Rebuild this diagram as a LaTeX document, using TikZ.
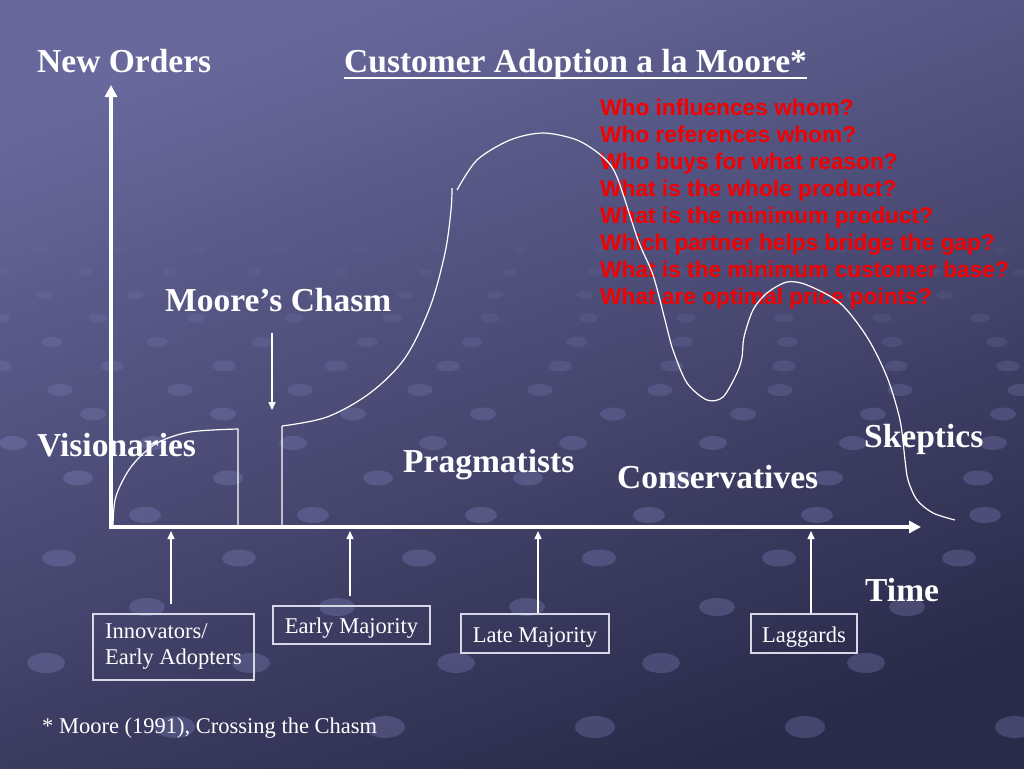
\documentclass[tikz,border=0pt]{standalone}
\usepackage{fontspec}
\setmainfont{Liberation Serif}
\newfontfamily\redsans{Liberation Sans}
\usetikzlibrary{arrows.meta}
\definecolor{bgtop}{RGB}{104,104,156}
\definecolor{bgbot}{RGB}{42,42,74}
\definecolor{boxline}{RGB}{215,215,232}
\definecolor{qred}{RGB}{245,0,0}
\definecolor{dotc}{RGB}{150,150,215}
\begin{document}
\begin{tikzpicture}[x=1pt,y=-1pt,
  heading/.style={text=white, font=\fontsize{33.5}{40}\selectfont\bfseries, inner sep=0pt, anchor=base west},
  plain/.style={text=white, font=\fontsize{22.5}{26}\selectfont, inner sep=0pt, anchor=base west},
  qs/.style={text=qred, font=\redsans\bfseries\fontsize{22.7}{27}\selectfont, inner sep=0pt, anchor=base west},
  box/.style={draw=boxline, line width=1.2pt, text=white, font=\fontsize{22.5}{26}\selectfont, inner sep=0pt, align=left},
  boxone/.style={box, text height=20pt, text depth=3pt},
  axis/.style={white, line width=4.5pt, -{Triangle[width=12pt,length=12pt]}},
  tick/.style={white, line width=1.4pt, -{Triangle[width=7pt,length=8pt]}},
  curve/.style={white, line width=1.2pt, line join=round}
]
\useasboundingbox (0,0) rectangle (1024,768);
\shade[top color=bgtop, bottom color=bgbot, shading angle=20] (0,0) rectangle (1024,768);
% background dots
\begin{scope}
\clip (0,0) rectangle (1024,768);
\foreach \yy/\sp/\off/\rx/\ry/\op in {
  250/80/40/7/3/0.06, 272/85/0/7.5/3.5/0.08, 295/90/45/8.5/4/0.10,
  318/98/0/9.5/4.5/0.12, 342/105/52/10.5/5/0.15, 366/112/0/11.5/5.5/0.18,
  390/120/60/12.5/6/0.20, 414/130/223/13/6.5/0.22, 443/140/153/14/7/0.24,
  478/150/78/15/7.5/0.25, 515/168/145/16/8/0.26, 558/180/59/17/8.5/0.26,
  607/190/147/18/9/0.26, 663/205/46/19/10/0.26, 727/210/175/20/11/0.26}{
  \foreach \k in {-2,...,15}{
    \fill[dotc, fill opacity=\op] ({\off+\k*\sp},\yy) ellipse [x radius=\rx*1pt, y radius=\ry*1pt];
  }
}
\end{scope}
% axes
\coordinate (O) at (111,527);
\coordinate (ytip) at (111,85);
\coordinate (xtip) at (921,527);
\draw[axis] ([yshift=-2.25pt]O) -- (ytip);
\draw[axis] ([xshift=-2.25pt]O) -- (xtip);
% headings
\node[heading] (neworders) at (37,72) {New Orders};
\node[heading] (title) at (344,72) {Customer Adoption a la Moore*};
\draw[white, line width=2.2pt] ([yshift=-6pt]title.base west) -- ([yshift=-6pt]title.base east);
\node[heading] (chasm) at (165,311) {Moore’s Chasm};
\node[heading] (vision) at (37,456) {Visionaries};
\node[heading] (prag) at (403,472) {Pragmatists};
\node[heading] (cons) at (617,488) {Conservatives};
\node[heading] (skep) at (864,447) {Skeptics};
\node[heading] (time) at (865,601) {Time};
% red questions
\foreach \t [count=\i] in {Who influences whom?, Who references whom?, Who buys for what reason?, What is the whole product?, What is the minimum product?, Which partner helps bridge the gap?, What is the minimum customer base?, What are optimal price points?}{
  \node[qs] (q\i) at (600,{115+(\i-1)*27.1}) {\t};
}
% chasm arrow
\coordinate (c1) at (272,333);
\coordinate (c2) at (272,410);
\draw[tick] (c1) -- (c2);
% adoption curve
\draw[curve] plot[smooth, tension=0.55] coordinates {(113,525) (115,500) (123,480) (135,462) (157,443) (190,432) (238,429)} -- (238,527);
\draw[curve] (282,527) -- (282,426) plot[smooth, tension=0.55] coordinates {(282,426) (327,417) (370,393) (405,358) (430,307) (445,253) (451,210) (452,188)};
\draw[curve] plot[smooth, tension=0.5] coordinates {(457,190) (477,160) (510,140) (543,133) (577,140) (603,157) (617,177) (638,240) (653,275) (665,320) (673,350) (687,383) (707,400) (723,397) (737,373) (742,357) (744,337) (753,310) (767,293) (787,282) (807,285) (840,303) (867,337) (887,377) (900,420) (905,460) (908,480) (917,500) (933,513) (955,520)};
% boxes
\node[box, minimum width=161pt, minimum height=66pt] (innov) at (173.5,647) {Innovators/\\Early Adopters};
\node[boxone, minimum width=157pt, minimum height=38pt] (emaj) at (351.5,625) {Early Majority};
\node[boxone, minimum width=148pt, minimum height=39pt] (lmaj) at (535,633.5) {Late Majority};
\node[boxone, minimum width=106pt, minimum height=39pt] (lagg) at (804,633.5) {Laggards};
\coordinate (a1) at (171,531);
\coordinate (a2) at (350,531);
\coordinate (a3) at (538,531);
\coordinate (a4) at (811,531);
\draw[tick, shorten <=9pt] (a1 |- innov.north) -- (a1);
\draw[tick, shorten <=9pt] (a2 |- emaj.north) -- (a2);
\draw[tick] (a3 |- lmaj.north) -- (a3);
\draw[tick] (a4 |- lagg.north) -- (a4);
% footnote
\node[plain] (foot) at (42,733) {* Moore (1991), Crossing the Chasm};
\end{tikzpicture}
\end{document}
